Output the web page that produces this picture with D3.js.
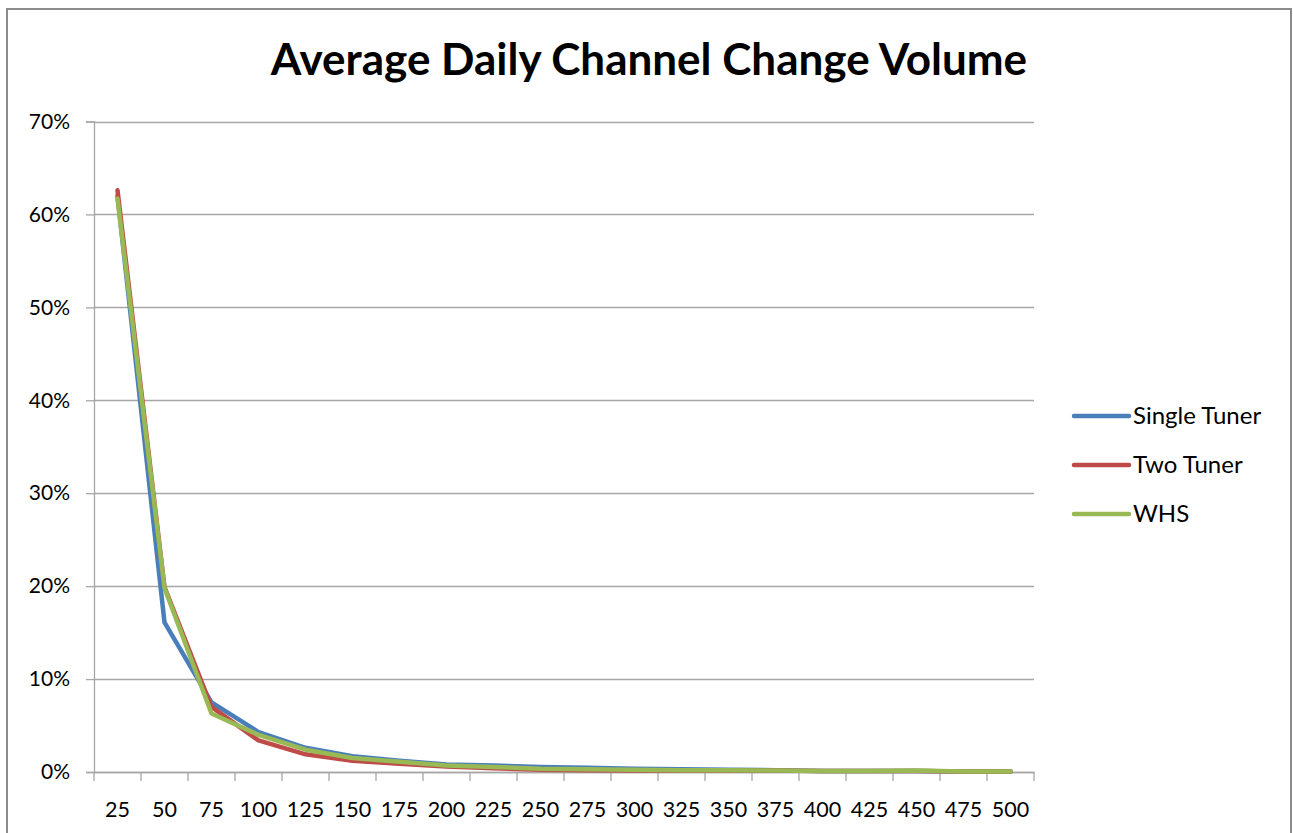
<!DOCTYPE html>
<html>
<head>
<meta charset="utf-8">
<script src="https://cdn.jsdelivr.net/npm/d3@7"></script>
<style>
  html, body { margin: 0; padding: 0; background: #fff; }
  svg { display: block; }
  text { font-family: Lato, "Open Sans", "Liberation Sans", sans-serif; fill: #000; }
</style>
</head>
<body>
<svg id="chart" width="1293" height="833"></svg>
<script>
// Channel change buckets (changes per day)
const categories = ["25","50","75","100","125","150","175","200","225","250","275","300","325","350","375","400","425","450","475","500"];

// Share of households in each bucket (%)
const singleTuner = [62.0, 16.1, 7.5, 4.3, 2.6, 1.7, 1.2, 0.8, 0.7, 0.55, 0.45, 0.35, 0.3, 0.25, 0.2, 0.1, 0.1, 0.1, 0.05, 0.05];
const twoTuner    = [62.6, 19.9, 7.0, 3.4, 1.9, 1.2, 0.9, 0.6, 0.4, 0.25, 0.2, 0.15, 0.15, 0.15, 0.15, 0.1, 0.1, 0.1, 0.05, 0.05];
const whs         = [61.7, 19.8, 6.3, 4.0, 2.4, 1.5, 1.1, 0.7, 0.55, 0.35, 0.3, 0.25, 0.2, 0.2, 0.15, 0.1, 0.1, 0.15, 0.05, 0.05];

const seriesNames = ["Single Tuner", "Two Tuner", "WHS"];
const yTicks = [0, 10, 20, 30, 40, 50, 60, 70];

const series = [
  { name: seriesNames[0], values: singleTuner, color: "#4A7EBB" },
  { name: seriesNames[1], values: twoTuner,    color: "#BE4B48" },
  { name: seriesNames[2], values: whs,         color: "#98B954" }
];

const svg = d3.select("#chart");
const margin = { left: 94, right: 1034, top: 121.5, bottom: 772 };

// Chart frame
svg.append("rect")
  .attr("x", 7).attr("y", 9)
  .attr("width", 1284).attr("height", 840)
  .attr("fill", "#fff")
  .attr("stroke", "#8c8c8c")
  .attr("stroke-width", 2);

const x = d3.scaleBand().domain(categories).range([margin.left, margin.right]);
const y = d3.scaleLinear().domain([0, 70]).range([margin.bottom, margin.top]);

// Horizontal gridlines
svg.append("g")
  .selectAll("line")
  .data(yTicks)
  .join("line")
  .attr("x1", margin.left).attr("x2", margin.right)
  .attr("y1", d => Math.round(y(d)) + 0.5).attr("y2", d => Math.round(y(d)) + 0.5)
  .attr("stroke", "#a6a6a6").attr("stroke-width", 1.3);

// Y axis
const yAxis = svg.append("g")
  .attr("transform", `translate(${margin.left},0)`)
  .call(d3.axisLeft(y).tickValues(yTicks).tickFormat(d => d + "%").tickSize(8).tickPadding(16));
yAxis.select(".domain").attr("stroke", "#a6a6a6").attr("stroke-width", 1.3);
yAxis.selectAll(".tick line").attr("stroke", "#a6a6a6").attr("stroke-width", 1.3);
yAxis.selectAll(".tick text").attr("font-size", 21).attr("fill", "#000")
  .style("font-family", "Lato, sans-serif");

// X axis with ticks at category boundaries
const xAxis = svg.append("g")
  .attr("transform", `translate(0,${margin.bottom})`)
  .call(d3.axisBottom(x).tickSize(0).tickPadding(30));
xAxis.select(".domain").attr("stroke", "#a6a6a6").attr("stroke-width", 1.3);
xAxis.selectAll(".tick text").attr("font-size", 21.5).attr("fill", "#000")
  .style("font-family", "Lato, sans-serif");
const boundaries = categories.map(c => x(c)).concat([x(categories[categories.length - 1]) + x.bandwidth()]);
svg.append("g")
  .selectAll("line")
  .data(boundaries)
  .join("line")
  .attr("x1", d => d).attr("x2", d => d)
  .attr("y1", margin.bottom).attr("y2", margin.bottom + 9)
  .attr("stroke", "#a6a6a6").attr("stroke-width", 1.3);

// Series lines
const line = d3.line()
  .x((d, i) => x(categories[i]) + x.bandwidth() / 2)
  .y(d => y(d));

svg.append("g")
  .selectAll("path")
  .data(series)
  .join("path")
  .attr("d", d => line(d.values))
  .attr("fill", "none")
  .attr("stroke", d => d.color)
  .attr("stroke-width", 4.5)
  .attr("stroke-linejoin", "round")
  .attr("stroke-linecap", "round");

// Title
svg.append("text")
  .attr("x", 649).attr("y", 75)
  .attr("text-anchor", "middle")
  .attr("font-size", 44)
  .attr("font-weight", "bold")
  .text("Average Daily Channel Change Volume");

// Legend
const legend = svg.append("g")
  .selectAll("g")
  .data(series)
  .join("g")
  .attr("transform", (d, i) => `translate(1074,${416 + i * 49})`);
legend.append("line")
  .attr("x1", 0).attr("x2", 55)
  .attr("stroke", d => d.color)
  .attr("stroke-width", 4.5)
  .attr("stroke-linecap", "round");
legend.append("text")
  .attr("x", 59).attr("y", 0)
  .attr("dy", "0.35em")
  .attr("font-size", 24)
  .text(d => d.name);
</script>
</body>
</html>
